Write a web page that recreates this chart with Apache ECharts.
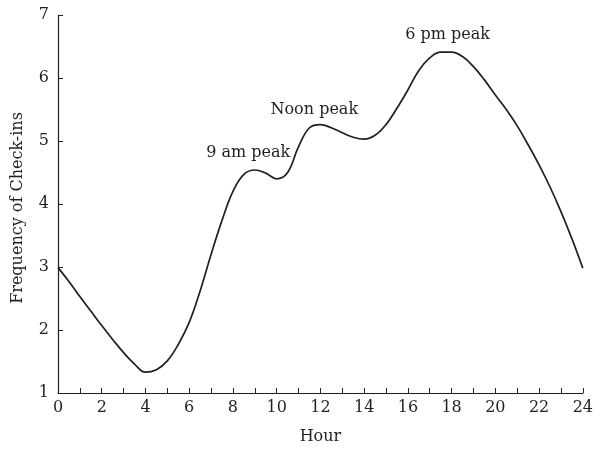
<!DOCTYPE html>
<html>
<head>
<meta charset="utf-8">
<script src="https://cdn.jsdelivr.net/npm/echarts@6/dist/echarts.min.js"></script>
<style>
  html, body { margin: 0; padding: 0; background: #fff; }
  #chart { width: 596px; height: 450px; }
</style>
</head>
<body>
<div id="chart"></div>
<script>
// hour of day (half-hour steps) and check-in frequency
var hours = [0, 0.5, 1, 1.5, 2, 2.5, 3, 3.5, 4, 4.5, 5, 5.5, 6, 6.5, 7, 7.5, 8, 8.5, 9, 9.5, 10, 10.5, 11, 11.5, 12,
             12.5, 13, 13.5, 14, 14.5, 15, 15.5, 16, 16.5, 17, 17.5, 18, 18.5, 19, 19.5, 20, 20.5, 21, 21.5, 22, 22.5, 23, 23.5, 24];
var freq = [2.99, 2.77, 2.53, 2.30, 2.07, 1.85, 1.64, 1.46, 1.33, 1.37, 1.51, 1.77, 2.12, 2.62, 3.20, 3.74, 4.20, 4.47, 4.54, 4.49, 4.40, 4.50, 4.91, 5.21, 5.26,
            5.21, 5.13, 5.06, 5.03, 5.09, 5.26, 5.52, 5.81, 6.12, 6.32, 6.41, 6.41, 6.34, 6.18, 5.97, 5.73, 5.50, 5.24, 4.94, 4.62, 4.27, 3.88, 3.45, 2.98];

// peak labels
var peakNames = ['9 am peak', 'Noon peak', '6 pm peak'];
var peakX = [8.7, 11.72, 17.82];
var peakY = [4.81, 5.50, 6.68];

var font = 'DejaVu Serif';
var ink = '#231f20';
var chart = echarts.init(document.getElementById('chart'));

var option = {
  animation: false,
  grid: { left: 58, right: 10, top: 15, bottom: 57 },
  xAxis: {
    type: 'value',
    min: 0, max: 24, interval: 1,
    name: 'Hour',
    nameLocation: 'middle',
    nameGap: 36,
    nameTextStyle: { fontFamily: font, fontSize: 16, color: ink },
    axisLine: { lineStyle: { color: ink, width: 1.2 } },
    axisTick: { inside: true, length: 5, lineStyle: { color: ink } },
    axisLabel: {
      fontFamily: font, fontSize: 16, color: ink, margin: 7,
      formatter: function (v) { return v % 2 === 0 ? String(v) : ''; }
    },
    splitLine: { show: false }
  },
  yAxis: {
    type: 'value',
    min: 1, max: 7, interval: 1,
    name: 'Frequency of Check-ins',
    nameLocation: 'middle',
    nameGap: 32,
    nameTextStyle: { fontFamily: font, fontSize: 16, color: ink, padding: [0, 8, 0, 0] },
    axisLine: { show: true, lineStyle: { color: ink, width: 1.2 } },
    axisTick: { show: true, inside: true, length: 5, lineStyle: { color: ink } },
    axisLabel: { fontFamily: font, fontSize: 16, color: ink, margin: 9 },
    splitLine: { show: false }
  },
  series: [
    {
      type: 'line',
      data: hours.map(function (h, i) { return [h, freq[i]]; }),
      smooth: 0.4,
      showSymbol: false,
      lineStyle: { color: ink, width: 1.7 }
    },
    {
      type: 'scatter',
      symbolSize: 0,
      itemStyle: { opacity: 1 },
      data: peakNames.map(function (n, i) { return { name: n, value: [peakX[i], peakY[i]] }; }),
      label: {
        show: true, position: 'inside',
        fontFamily: font, fontSize: 16, color: ink, opacity: 1, textBorderWidth: 0,
        formatter: function (p) { return p.name; }
      }
    }
  ]
};
chart.setOption(option);
</script>
</body>
</html>
